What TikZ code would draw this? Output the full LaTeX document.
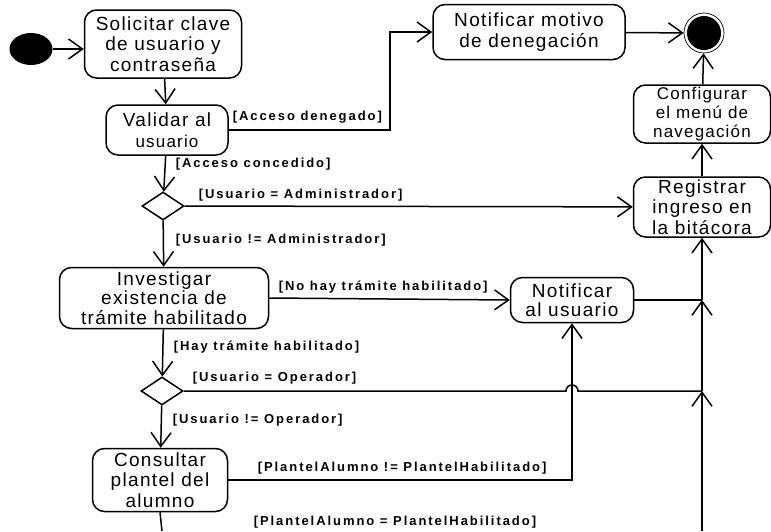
\documentclass[tikz,border=0pt]{standalone}
\usepackage{fontspec}
\setmainfont{Liberation Sans}
\newfontfamily\actfont[LetterSpace=7]{Liberation Sans}
\newfontfamily\grdfont[LetterSpace=15]{Liberation Sans}
\usetikzlibrary{arrows.meta,shapes.geometric}

\begin{document}
\begin{tikzpicture}[x=1pt,y=-1pt,line width=1.5pt,
    activity/.style={rectangle,rounded corners=12pt,draw,align=center,inner sep=1pt,
      font=\actfont\fontsize{19}{20.5}\selectfont},
    decision/.style={diamond,draw,inner sep=0pt,minimum width=42pt,minimum height=28pt},
    guard/.style={anchor=west,inner sep=0pt,font=\grdfont\bfseries\fontsize{13}{15}\selectfont},
    flow/.style={-{Straight Barb[length=14pt,width=20pt,line width=1.5pt]}}]

  \useasboundingbox[fill=white] (0,0) rectangle (771,531);

  % initial and final states
  \node[ellipse,fill=black,minimum width=43pt,minimum height=32pt,inner sep=0pt] (start) at (31,49) {};
  \node[circle,draw,line width=0.7pt,minimum size=40pt,inner sep=0pt,
    path picture={\fill (path picture bounding box.center) circle (17pt);}] (end) at (704,33) {};

  % activities
  \node[activity,minimum width=157pt,minimum height=68pt] (sol) at (163,44) {Solicitar clave\\de usuario y\\contraseña};
  \node[activity,minimum width=122pt,minimum height=50pt] (val) at (167,130) {Validar al\\{\fontsize{17}{18}\selectfont usuario}};
  \node[activity,minimum width=192pt,minimum height=55pt] (motivo) at (529,32) {Notificar motivo\\de denegación};
  \node[activity,minimum width=137pt,minimum height=58pt,font=\actfont\fontsize{17}{19}\selectfont] (conf) at (702,114) {Configurar\\el menú de\\navegación};
  \node[activity,minimum width=137pt,minimum height=60pt] (reg) at (702,207) {Registrar\\ingreso en\\la bitácora};
  \node[activity,minimum width=209pt,minimum height=61pt,font=\actfont\fontsize{19}{19.5}\selectfont] (inv) at (164,298) {Investigar\\existencia de\\trámite habilitado};
  \node[activity,minimum width=123pt,minimum height=45pt,font=\actfont\fontsize{19}{19}\selectfont] (nusr) at (572,300) {Notificar\\al usuario};
  \node[activity,minimum width=135pt,minimum height=63pt] (cons) at (160,480) {Consultar\\plantel del\\alumno};

  % decisions
  \node[decision] (dadm) at (163,206) {};
  \node[decision] (dope) at (162,391) {};

  % helper points
  \coordinate (kden) at (390,32);
  \coordinate (jusr) at (702,300);
  \coordinate (jope) at (702,391);
  \coordinate (bcol) at (702,531);
  \coordinate (bcons) at (162,531);

  % flows
  \draw[flow] (start) -- (start -| sol.west);
  \draw[flow] (sol) -- (val);
  \draw[flow] (val.east) -| (kden) -- (motivo.west);
  \draw[flow] (motivo) -- (end);
  \draw[flow] (conf) -- (end);
  \draw[flow] (reg) -- (conf);
  \draw[flow] (val) -- (dadm);
  \draw[flow] (dadm) -- (reg);
  \draw[flow] (dadm) -- (inv);
  \draw[flow] (inv.east) -- (nusr.west);
  \draw[flow] (inv) -- (dope);
  \draw[flow] (dope) -- (cons);
  \draw[flow] (cons.east) -| (nusr.south);
  \draw (dope.east) -- (566,391) arc (180:360:6) -- (jope);
  \draw (nusr.east) -- (jusr);
  \draw (cons.south) -- (bcons);
  \draw[flow] (bcol) -- (jope);
  \draw[flow] (jope) -- (jusr);
  \draw[flow] (jusr) -- (reg.south);

  % guards
  \node[guard] (gden) at (232,117) {[Acceso denegado]};
  \node[guard] (gcon) at (175,164) {[Acceso concedido]};
  \node[guard] (gadm) at (198,195) {[Usuario = Administrador]};
  \node[guard] (gnadm) at (175,240) {[Usuario != Administrador]};
  \node[guard] (gno) at (278,287) {[No hay trámite habilitado]};
  \node[guard] (ghay) at (173,347) {[Hay trámite habilitado]};
  \node[guard] (gope) at (192,378) {[Usuario = Operador]};
  \node[guard] (gnope) at (172,420) {[Usuario != Operador]};
  \node[guard] (gnpl) at (257,468) {[PlantelAlumno != PlantelHabilitado]};
  \node[guard] (gpl) at (253,522) {[PlantelAlumno = PlantelHabilitado]};
\end{tikzpicture}
\end{document}
